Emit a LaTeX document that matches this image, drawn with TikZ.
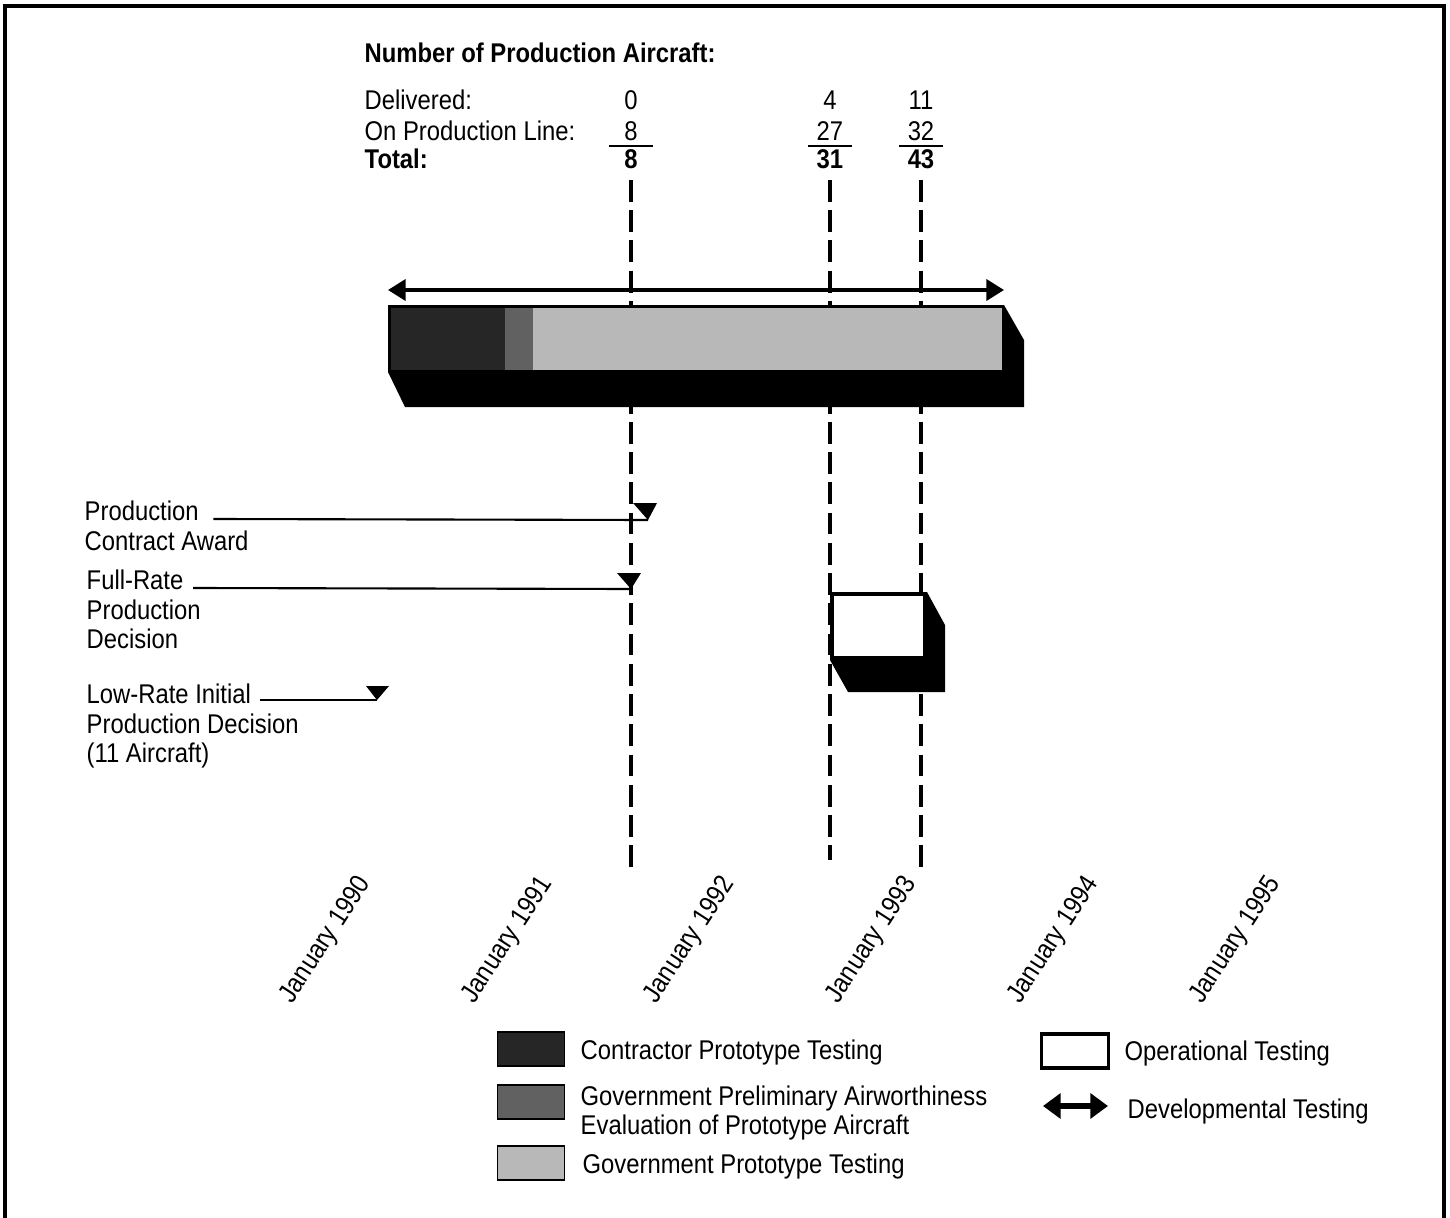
\documentclass[tikz,border=0pt]{standalone}
\usepackage{fontspec}
\setmainfont{Liberation Sans}[FakeStretch=0.88]
\usetikzlibrary{arrows.meta,calc}

\begin{document}
\begin{tikzpicture}[x=0.01cm,y=-0.01cm,
    font=\fontsize{7.7}{8.3}\selectfont,
    lbl/.style={anchor=base west,inner sep=0pt},
    num/.style={anchor=base,inner sep=0pt},
    guide/.style={line width=0.9pt,dash pattern=on 6.2pt off 2.4pt},
    devarrow/.style={line width=0.9pt,{Triangle[length=5pt,width=6pt]}-{Triangle[length=5pt,width=6pt]}},
    swatch/.style={draw,line width=0.5pt,minimum width=0.67cm,minimum height=0.34cm,inner sep=0pt}]
  \useasboundingbox (0,0) rectangle (1450,1218);
  % frame
  \draw[line width=0.9pt] (5,1218) -- (5,6) -- (1444,6) -- (1444,1218);

  % counts of production aircraft
  \node[lbl,font=\fontsize{7.7}{8.3}\selectfont\bfseries] (head) at (364,63) {Number of Production Aircraft:};
  \node[lbl] (dlv) at (364,110) {Delivered:};
  \node[lbl] (onl) at (364,140) {On Production Line:};
  \node[lbl,font=\fontsize{7.7}{8.3}\selectfont\bfseries] (tot) at (364,169) {Total:};
  \foreach \c/\x/\d/\p/\t/\len in {a/631/0/8/8/690, b/830/4/27/31/680, c/921/11/32/43/688} {
    \node[num] (d\c) at (\x,110) {\d};
    \node[num] (p\c) at (\x,140) {\p};
    \node[num,font=\fontsize{7.7}{8.3}\selectfont\bfseries] (t\c) at (\x,169) {\t};
    \draw[line width=0.6pt] ($(p\c.base)+(-22,6)$) -- ($(p\c.base)+(22,6)$);
    \draw[guide] ($(t\c.base)+(0,11)$) -- ++(0,\len);
  }

  % developmental testing
  \coordinate (dt1) at (388,290);
  \coordinate (dt2) at (1004,290);
  \draw[devarrow] (dt1) -- (dt2);

  % test bar
  \fill (388,305) -- (1004,305) -- (1024,340) -- (1024,407) -- (405,407) -- (388,372) -- cycle;
  \fill[black!85] (391,308) rectangle (505,370);
  \fill[black!62] (505,308) rectangle (533,370);
  \fill[black!28] (533,308) rectangle (1002,370);

  % operational testing
  \fill (830,592) -- (927,592) -- (945,625) -- (945,692) -- (848,692) -- (830,660) -- cycle;
  \fill[white] (834,596) rectangle (923,656);

  % milestones
  \node[lbl] (pca1) at (84,521) {Production};
  \node[lbl] (pca2) at (84,550) {Contract Award};
  \coordinate (pcatip) at (648,520);
  \draw[line width=0.6pt] ($(pca1.base east)+(14,-2)$) -- (pcatip);
  \fill (pcatip) -- ++(-15,-17) -- ++(24,0) -- cycle;

  \node[lbl] (frp1) at (86,590) {Full-Rate};
  \node[lbl] (frp2) at (86,619) {Production};
  \node[lbl] (frp3) at (86,648) {Decision};
  \coordinate (frptip) at (631,589);
  \draw[line width=0.6pt] ($(frp1.base east)+(9,-2)$) -- (frptip);
  \fill (frptip) -- ++(-14,-16) -- ++(24,0) -- cycle;

  \node[lbl] (lri1) at (86,703) {Low-Rate Initial};
  \node[lbl] (lri2) at (86,733) {Production Decision};
  \node[lbl] (lri3) at (86,762) {(11 Aircraft)};
  \coordinate (lritip) at (377,700);
  \draw[line width=0.6pt] ($(lri1.base east)+(8,-3)$) -- (lritip);
  \fill (lritip) -- ++(-11,-14) -- ++(23,0) -- cycle;

  % time axis
  \foreach \yr [count=\i from 0] in {1990,...,1995}
    \node[rotate=57,inner sep=0pt] (yr\yr) at ({326+182*\i},940) {January \yr};

  % legend
  \node[swatch,fill=black!85] (sw1) at (531,1049) {};
  \node[anchor=west,inner sep=0pt] (lg1) at (580,1052) {Contractor Prototype Testing};
  \node[swatch,fill=black!62] (sw2) at (531,1102) {};
  \node[anchor=west,inner sep=0pt,align=left] (lg2) at (580,1113) {Government Preliminary Airworthiness\\Evaluation of Prototype Aircraft};
  \node[swatch,fill=black!28] (sw3) at (531,1163) {};
  \node[anchor=west,inner sep=0pt] (lg3) at (582,1166) {Government Prototype Testing};
  \node[swatch,line width=0.9pt,fill=white] (sw4) at (1075,1051) {};
  \node[anchor=west,inner sep=0pt] (lg4) at (1124,1053) {Operational Testing};
  \coordinate (la1) at (1043,1106);
  \coordinate (la2) at (1108,1106);
  \draw[line width=1.6pt,{Triangle[length=5pt,width=7pt]}-{Triangle[length=5pt,width=7pt]}] (la1) -- (la2);
  \node[anchor=west,inner sep=0pt] (lg5) at (1127,1111) {Developmental Testing};
\end{tikzpicture}
\end{document}
